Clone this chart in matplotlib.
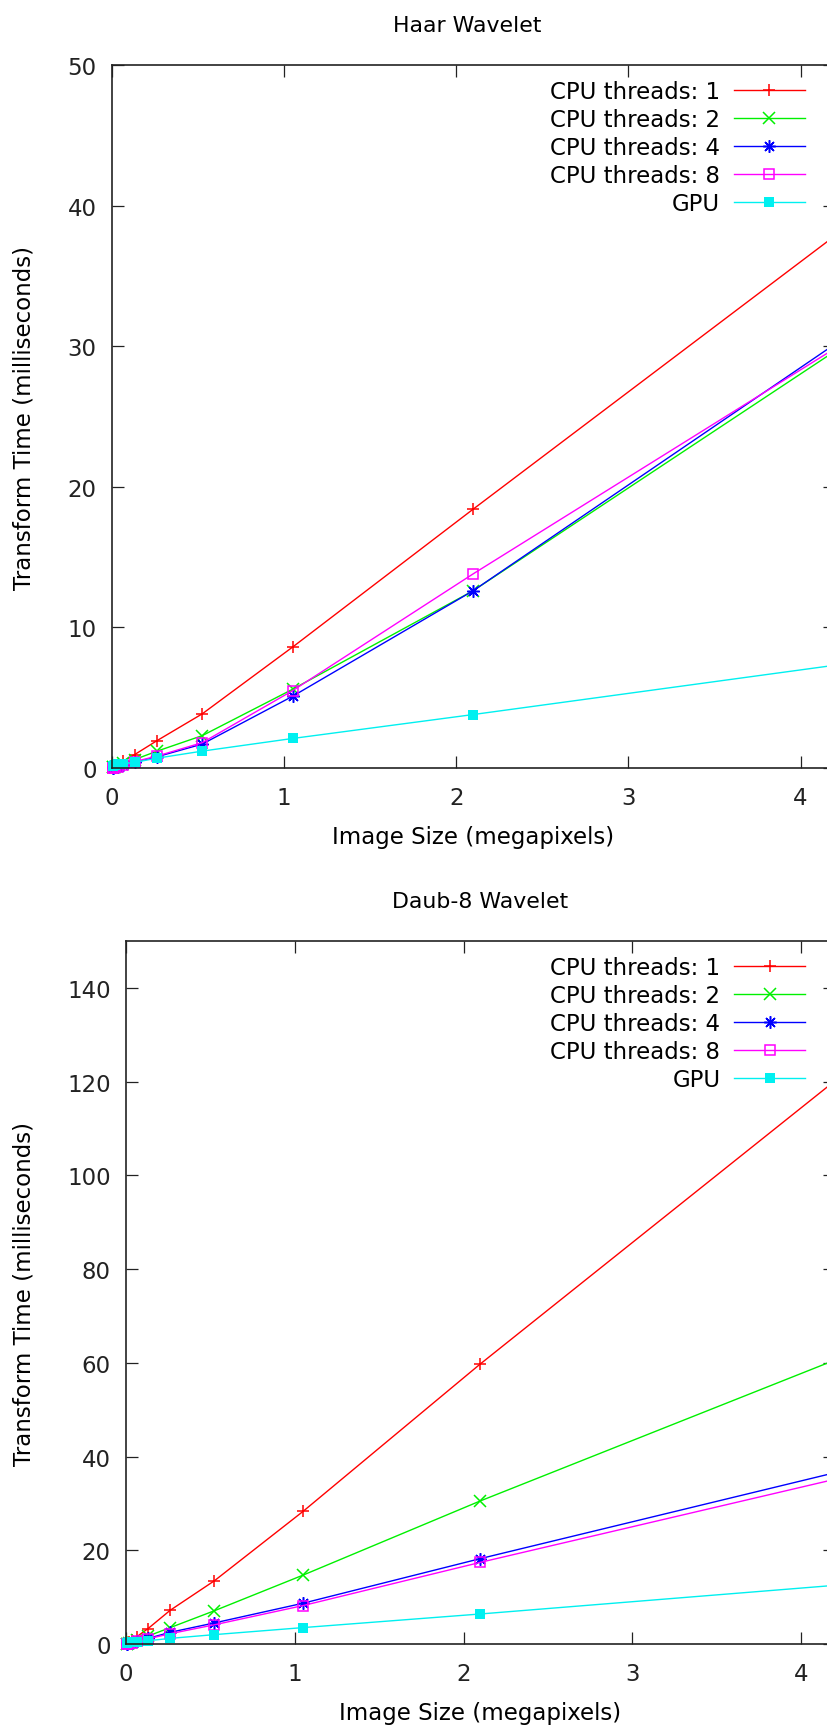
import matplotlib
matplotlib.use("Agg")
import matplotlib.pyplot as plt

# -------------------------
# DATA
# -------------------------
# image sizes in megapixels (64x64 up to 2048x2048, doubling the area each step)
sizes_mp = [0.0041, 0.0082, 0.0164, 0.0328, 0.0655, 0.131, 0.262, 0.524, 1.049, 2.097, 4.194]

labels = ["CPU threads: 1", "CPU threads: 2", "CPU threads: 4", "CPU threads: 8", "GPU"]

# Haar wavelet, transform time in ms
haar_cpu1 = [0.03, 0.06, 0.1, 0.2, 0.5, 0.95, 1.95, 3.85, 8.6, 18.4, 37.8]
haar_cpu2 = [0.05, 0.08, 0.1, 0.2, 0.35, 0.6, 1.2, 2.3, 5.6, 12.6, 29.6]
haar_cpu4 = [0.02, 0.03, 0.06, 0.1, 0.2, 0.4, 0.8, 1.7, 5.1, 12.6, 30.1]
haar_cpu8 = [0.02, 0.03, 0.06, 0.1, 0.2, 0.45, 0.85, 1.8, 5.5, 13.8, 29.8]
haar_gpu = [0.15, 0.17, 0.2, 0.25, 0.3, 0.4, 0.7, 1.2, 2.1, 3.8, 7.3]

# Daub-8 wavelet, transform time in ms
daub_cpu1 = [0.1, 0.2, 0.4, 0.8, 1.6, 3.3, 7.2, 13.5, 28.3, 59.7, 120.0]
daub_cpu2 = [0.06, 0.1, 0.2, 0.4, 0.85, 1.7, 3.5, 7.1, 14.7, 30.5, 60.5]
daub_cpu4 = [0.04, 0.07, 0.15, 0.3, 0.6, 1.2, 2.5, 4.5, 8.7, 18.2, 36.5]
daub_cpu8 = [0.04, 0.07, 0.14, 0.28, 0.55, 1.1, 2.2, 4.1, 8.2, 17.4, 35.1]
daub_gpu = [0.3, 0.32, 0.35, 0.4, 0.5, 0.7, 1.2, 2.0, 3.5, 6.4, 12.5]

haar_ticks = [0, 10, 20, 30, 40, 50]
daub_ticks = [0, 20, 40, 60, 80, 100, 120, 140]
x_ticks = [0, 1, 2, 3, 4]

# -------------------------
# STYLE (gnuplot-like)
# -------------------------
plt.rcParams["font.family"] = ["DejaVu Sans"]
FS = 16.5

styles = [
    dict(color="#ff0000", marker="+", ms=9, mew=1.1),
    dict(color="#00f000", marker="x", ms=8, mew=1.1),
    dict(color="#0000ff", marker=(8, 2, 0), ms=9, mew=1.1),
    dict(color="#ff00ff", marker="s", ms=6.5, mew=1.1, mfc="none"),
    dict(color="#00f0f0", marker="s", ms=7, mew=0),
]


def draw_panel(ax, title, title_x, series, ymax, yticks):
    for y, lab, st in zip(series, labels, styles):
        ax.plot(sizes_mp, y, label=lab, lw=1.0, clip_on=False, **st)

    ax.set_xlim(0, 4.2)
    ax.set_ylim(0, ymax)
    ax.set_xticks(x_ticks)
    ax.set_yticks(yticks)
    ax.tick_params(direction="in", length=8.5, width=0.9, top=True, right=True,
                   labelsize=FS, colors="#222222")
    ax.tick_params(axis="x", pad=13)
    ax.tick_params(axis="y", pad=11)
    for sp in ax.spines.values():
        sp.set_linewidth(1.2)
        sp.set_color("#222222")

    ax.set_title(title, fontsize=15.8, x=title_x, y=1.057, va="center", pad=0)
    ax.set_xlabel("Image Size (megapixels)", fontsize=FS, va="center")
    ax.xaxis.set_label_coords(0.5, -0.098)
    ax.set_ylabel("Transform Time (milliseconds)", fontsize=FS, va="center")

    leg = ax.legend(loc="upper right", bbox_to_anchor=(0.958, 0.979),
                    frameon=False, markerfirst=False, fontsize=FS,
                    handlelength=3.1, handletextpad=0.6, labelspacing=0.225,
                    borderpad=0, borderaxespad=0, numpoints=1)
    return leg


# -------------------------
# PLOT
# -------------------------
fig = plt.figure(figsize=(8.28, 17.31), dpi=100)

# axes run past the right edge of the canvas
ax1 = fig.add_axes([112 / 828, 1 - 769 / 1731, 723 / 828, 703 / 1731])
ax2 = fig.add_axes([126 / 828, 1 - 1645 / 1731, 709 / 828, 703 / 1731])

draw_panel(ax1, "Haar Wavelet", 0.491,
           [haar_cpu1, haar_cpu2, haar_cpu4, haar_cpu8, haar_gpu], 50, haar_ticks)
ax1.yaxis.set_label_coords((24 - 112) / 723, 0.5)

draw_panel(ax2, "Daub-8 Wavelet", 0.5,
           [daub_cpu1, daub_cpu2, daub_cpu4, daub_cpu8, daub_gpu], 150, daub_ticks)
ax2.yaxis.set_label_coords((24 - 126) / 709, 0.5)

fig.savefig("out.png", dpi=100)
